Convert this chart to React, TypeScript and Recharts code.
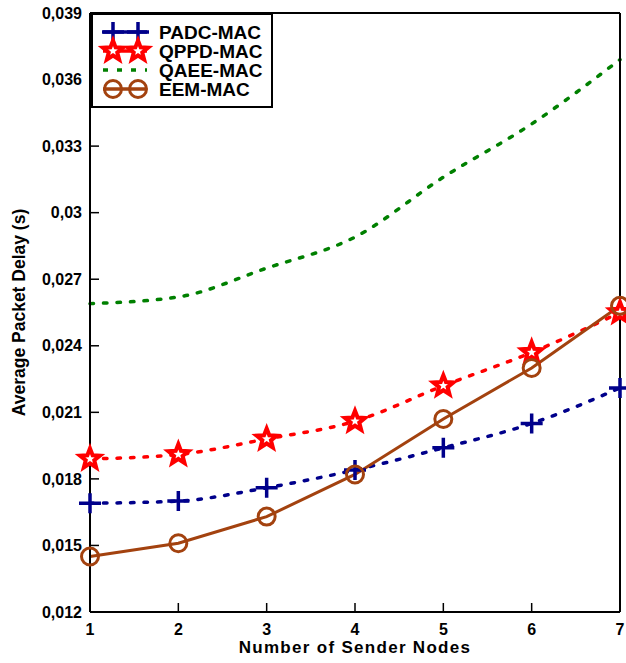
import { LineChart, Line, XAxis, YAxis, Label, Legend } from "recharts";

const nodes = [1, 2, 3, 4, 5, 6, 7];
const yTicks = [0.012, 0.015, 0.018, 0.021, 0.024, 0.027, 0.03, 0.033, 0.036, 0.039];

const padc = [0.0169, 0.017, 0.0176, 0.0184, 0.0194, 0.0205, 0.0221];
const qppd = [0.0189, 0.0191, 0.0198, 0.0206, 0.0222, 0.0237, 0.0255];
const qaee = [0.0259, 0.0262, 0.0275, 0.0289, 0.0316, 0.034, 0.0369];
const eem = [0.0145, 0.0151, 0.0163, 0.0182, 0.0207, 0.023, 0.0258];

const NAVY = "#00008b";
const RED = "#ff0000";
const GREEN = "#008000";
const BROWN = "#a3420f";
const FONT = "'Liberation Sans', Arial, sans-serif";

const data = nodes.map((n, i) => ({
  n,
  padc: padc[i],
  qppd: qppd[i],
  qaee: qaee[i],
  eem: eem[i],
}));

const fmt = (v: number) => String(+v.toFixed(3)).replace(".", ",");

function PlusMark({ cx, cy }: { cx: number; cy: number }) {
  return (
    <path
      d={`M${cx - 11},${cy}H${cx + 11}M${cx},${cy - 10}V${cy + 10}`}
      stroke={NAVY}
      strokeWidth={3.5}
      fill="none"
    />
  );
}

function StarMark({ cx, cy }: { cx: number; cy: number }) {
  const pts: string[] = [];
  for (let k = 0; k < 10; k++) {
    const r = k % 2 === 0 ? 10.5 : 4.5;
    const a = -Math.PI / 2 + (k * Math.PI) / 5;
    pts.push(`${cx + r * Math.cos(a)},${cy + r * Math.sin(a)}`);
  }
  return (
    <polygon
      points={pts.join(" ")}
      stroke={RED}
      strokeWidth={4}
      strokeLinejoin="miter"
      fill="#fff"
    />
  );
}

function CircleMark({ cx, cy }: { cx: number; cy: number }) {
  return <circle cx={cx} cy={cy} r={8.5} stroke={BROWN} strokeWidth={3} fill="none" />;
}

function LegendBox() {
  const rows = [
    { name: "PADC-MAC", color: NAVY, mark: PlusMark },
    { name: "QPPD-MAC", color: RED, mark: StarMark },
    { name: "QAEE-MAC", color: GREEN, mark: null },
    { name: "EEM-MAC", color: BROWN, mark: CircleMark },
  ];
  return (
    <div
      style={{
        width: 182,
        height: 95,
        boxSizing: "border-box",
        border: "2px solid #000",
        background: "#fff",
      }}
    >
      <svg width={178} height={91} style={{ display: "block" }}>
        {rows.map((r, i) => {
          const y = 17 + i * 19;
          const M = r.mark;
          return (
            <g key={r.name}>
              <line
                x1={10}
                x2={54}
                y1={y}
                y2={y}
                stroke={r.color}
                strokeWidth={3.5}
                strokeDasharray={r.mark ? undefined : "5 9"}
              />
              {M && <M cx={20} cy={y} />}
              {M && <M cx={45} cy={y} />}
              <text
                x={66}
                y={y + 6.5}
                fontSize={19}
                fontWeight="bold"
                fontFamily={FONT}
                fill="#000"
              >
                {r.name}
              </text>
            </g>
          );
        })}
      </svg>
    </div>
  );
}

const axisLine = { stroke: "#000", strokeWidth: 2 };
const tickLine = { stroke: "#000", strokeWidth: 1.5 };
const tickStyle = { fill: "#000", fontSize: 16, fontWeight: "bold", fontFamily: FONT };

export default function App() {
  return (
    <div style={{ position: "absolute", left: 0, top: 0, background: "#fff" }}>
      <LineChart
        width={626}
        height={663}
        data={data}
        margin={{ top: 12, right: 5, bottom: 6, left: 0 }}
      >
        <XAxis
          dataKey="n"
          type="number"
          domain={[1, 7]}
          ticks={nodes}
          height={45}
          tickSize={-9}
          tickMargin={21}
          axisLine={axisLine}
          tickLine={tickLine}
          tick={tickStyle}
        >
          <Label
            value="Number of Sender Nodes"
            position="insideBottom"
            offset={4}
            style={{ fill: "#000", fontSize: 17, fontWeight: "bold", fontFamily: FONT, letterSpacing: 1.3 }}
          />
        </XAxis>
        <XAxis
          xAxisId="top"
          orientation="top"
          dataKey="n"
          type="number"
          domain={[1, 7]}
          ticks={nodes}
          height={1}
          tick={false}
          tickSize={-9}
          axisLine={axisLine}
          tickLine={tickLine}
        />
        <YAxis
          type="number"
          domain={[0.012, 0.039]}
          ticks={yTicks}
          width={90}
          tickSize={-9}
          tickMargin={17}
          tickFormatter={fmt}
          axisLine={axisLine}
          tickLine={tickLine}
          tick={tickStyle}
        >
          <Label
            value="Average Packet Delay (s)"
            angle={-90}
            position="insideLeft"
            offset={19}
            style={{ textAnchor: "middle", fill: "#000", fontSize: 17.5, fontWeight: "bold", fontFamily: FONT }}
          />
        </YAxis>
        <YAxis
          yAxisId="right"
          orientation="right"
          type="number"
          domain={[0.012, 0.039]}
          ticks={yTicks}
          width={1}
          tick={false}
          tickSize={-9}
          axisLine={axisLine}
          tickLine={tickLine}
        />
        <Legend
          layout="vertical"
          align="center"
          verticalAlign="middle"
          wrapperStyle={{ top: 13, left: 91, width: 182, height: 95 }}
          content={() => <LegendBox />}
        />
        <Line
          dataKey="padc"
          type="monotone"
          stroke={NAVY}
          strokeWidth={3.5}
          strokeDasharray="3.5 10"
          strokeLinecap="round"
          dot={(p: any) => <PlusMark key={`padc-${p.index}`} cx={p.cx} cy={p.cy} />}
          isAnimationActive={false}
        />
        <Line
          dataKey="qppd"
          type="monotone"
          stroke={RED}
          strokeWidth={3.5}
          strokeDasharray="3.5 10"
          strokeLinecap="round"
          dot={(p: any) => <StarMark key={`qppd-${p.index}`} cx={p.cx} cy={p.cy} />}
          isAnimationActive={false}
        />
        <Line
          dataKey="qaee"
          type="monotone"
          stroke={GREEN}
          strokeWidth={3.5}
          strokeDasharray="3.5 10"
          strokeLinecap="round"
          dot={false}
          isAnimationActive={false}
        />
        <Line
          dataKey="eem"
          type="linear"
          stroke={BROWN}
          strokeWidth={3}
          dot={(p: any) => <CircleMark key={`eem-${p.index}`} cx={p.cx} cy={p.cy} />}
          isAnimationActive={false}
        />
      </LineChart>
    </div>
  );
}
